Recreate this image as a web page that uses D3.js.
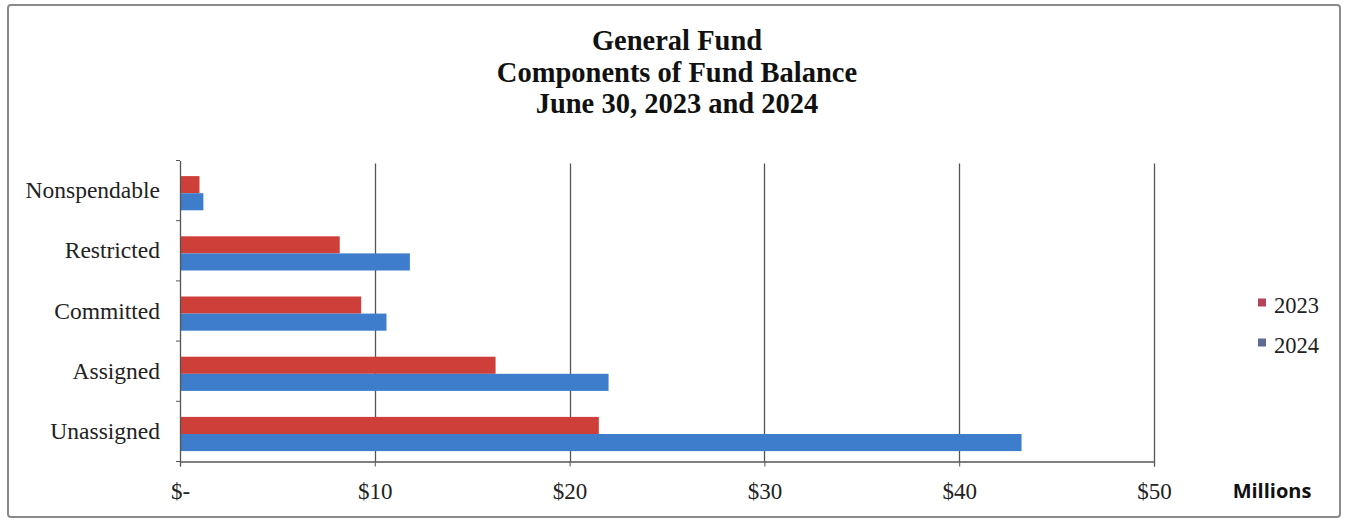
<!DOCTYPE html>
<html>
<head>
<meta charset="utf-8">
<script src="https://cdn.jsdelivr.net/npm/d3@7"></script>
<style>
  body { margin: 0; background: #fff; }
  svg { display: block; }
</style>
</head>
<body>
<script>
// values, $ millions
var categories = ["Nonspendable", "Restricted", "Committed", "Assigned", "Unassigned"];
var seriesNames = ["2023", "2024"];
var values2023 = [1.0, 8.2, 9.3, 16.2, 21.5];
var values2024 = [1.2, 11.8, 10.6, 22.0, 43.2];
var xTicks = [0, 10, 20, 30, 40, 50];
var titleLines = ["General Fund", "Components of Fund Balance", "June 30, 2023 and 2024"];
var colors = ["#cf3f39", "#3d7dcc"];
var legendColors = ["#b5435a", "#5d6b97"];

var w = 1348, h = 522;
var plotLeft = 180, plotRight = 1154, plotTop = 160.5, plotBottom = 461.5;
var serif = "'Liberation Serif', 'Times New Roman', serif";

var svg = d3.select("body").append("svg")
    .attr("width", w)
    .attr("height", h);

// outer frame
svg.append("rect")
    .attr("x", 8).attr("y", 5)
    .attr("width", 1332).attr("height", 512)
    .attr("rx", 3)
    .attr("fill", "#fff")
    .attr("stroke", "#8a8a8a")
    .attr("stroke-width", 2);

var title = svg.append("text")
    .attr("text-anchor", "middle")
    .style("font-family", serif)
    .style("font-weight", "bold")
    .style("font-size", "28.5px")
    .attr("fill", "#111");
title.selectAll("tspan").data(titleLines).enter().append("tspan")
    .attr("x", 677)
    .attr("y", function (d, i) { return 50 + i * 31.5; })
    .text(function (d) { return d; });

var x = d3.scaleLinear().domain([0, 50]).range([plotLeft, plotRight]);
var y = d3.scaleBand().domain(categories).range([plotTop, plotBottom]).paddingInner(0).paddingOuter(0);
var inner = d3.scaleBand().domain(seriesNames).range([0, y.bandwidth()])
    .paddingInner(0).paddingOuter(0.76).align(0.6);

// gridlines
svg.append("g").selectAll("line").data(xTicks.slice(1)).enter().append("line")
    .attr("x1", function (d) { return Math.round(x(d)) + 0.5; })
    .attr("x2", function (d) { return Math.round(x(d)) + 0.5; })
    .attr("y1", plotTop + 3)
    .attr("y2", plotBottom)
    .attr("stroke", "#555")
    .attr("stroke-width", 1.3);

var rows = categories.map(function (c, i) {
    return { cat: c, vals: [values2023[i], values2024[i]] };
});

var groups = svg.append("g").selectAll("g").data(rows).enter().append("g")
    .attr("transform", function (d) { return "translate(0," + y(d.cat) + ")"; });

groups.selectAll("rect").data(function (d) {
    return d.vals.map(function (v, j) { return { s: seriesNames[j], v: v, j: j }; });
}).enter().append("rect")
    .attr("x", x(0))
    .attr("y", function (d) { return inner(d.s); })
    .attr("width", function (d) { return x(d.v) - x(0); })
    .attr("height", inner.bandwidth())
    .attr("fill", function (d) { return colors[d.j]; });

// y axis
var yAxis = d3.axisLeft(y).tickSize(0).tickPadding(20);
var gy = svg.append("g")
    .attr("transform", "translate(" + plotLeft + ",0)")
    .call(yAxis);
gy.select(".domain").attr("stroke", "#555").attr("stroke-width", 1.3);
gy.selectAll("text")
    .style("font-family", serif)
    .style("font-size", "23.5px")
    .attr("fill", "#222");
// category boundary ticks
var bounds = categories.map(function (c) { return y(c); }).concat([plotBottom]);
svg.append("g").selectAll("line").data(bounds).enter().append("line")
    .attr("x1", plotLeft - 4).attr("x2", plotLeft)
    .attr("y1", function (d) { return d; })
    .attr("y2", function (d) { return d; })
    .attr("stroke", "#555");

// x axis
var xAxis = d3.axisBottom(x).tickValues(xTicks).tickSize(5).tickPadding(16)
    .tickFormat(function (d) { return d === 0 ? "$-" : "$" + d; });
var gx = svg.append("g")
    .attr("transform", "translate(0," + plotBottom + ")")
    .call(xAxis);
gx.select(".domain").attr("stroke", "#555").attr("stroke-width", 1.3);
gx.selectAll(".tick line").attr("stroke", "#555");
gx.selectAll("text")
    .style("font-family", serif)
    .style("font-size", "23px")
    .attr("fill", "#222");

svg.append("text")
    .attr("x", 1272).attr("y", 498)
    .attr("text-anchor", "middle")
    .style("font-family", "'Open Sans', 'Liberation Sans', sans-serif")
    .style("font-weight", "bold")
    .style("font-size", "20px")
    .attr("fill", "#111")
    .text("Millions");

// legend
var legend = svg.append("g").selectAll("g").data(seriesNames).enter().append("g")
    .attr("transform", function (d, i) { return "translate(1258," + (302.5 + i * 40) + ")"; });
legend.append("rect")
    .attr("x", 0).attr("y", -4)
    .attr("width", 8).attr("height", 8)
    .attr("fill", function (d, i) { return legendColors[i]; });
legend.append("text")
    .attr("x", 16).attr("y", 10.5)
    .style("font-family", serif)
    .style("font-size", "22.5px")
    .attr("fill", "#222")
    .text(function (d) { return d; });
</script>
</body>
</html>
